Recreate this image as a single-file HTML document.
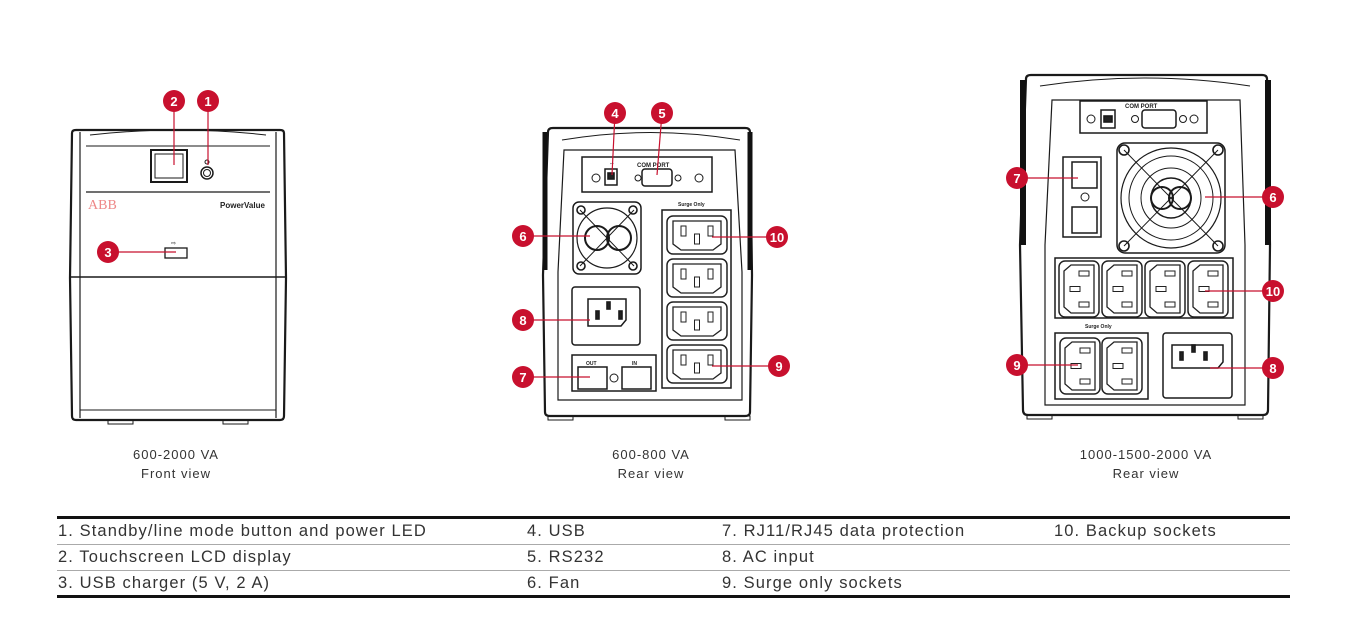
<!DOCTYPE html>
<html><head><meta charset="utf-8"><style>
body{margin:0;background:#fff;width:1353px;height:623px;overflow:hidden;font-family:"Liberation Sans",sans-serif}
svg{position:absolute;left:0;top:0}
</style></head><body>
<svg width="1353" height="623" viewBox="0 0 1353 623" xmlns="http://www.w3.org/2000/svg" font-family="Liberation Sans, sans-serif">
<defs>
<g id="sock"><rect x="0" y="0" width="60" height="38" rx="6" fill="#fff" stroke="#222" stroke-width="1.5"/><path d="M6 5 H54 V28 L46 34 H14 L6 28 Z" fill="none" stroke="#222" stroke-width="1.3"/><rect x="14" y="10" width="5" height="10" fill="none" stroke="#222"/><rect x="41" y="10" width="5" height="10" fill="none" stroke="#222"/><rect x="27.5" y="18" width="5" height="10" fill="none" stroke="#222"/></g>
<g id="sockv"><rect x="0" y="0" width="40" height="56" rx="6" fill="#fff" stroke="#222" stroke-width="1.5"/><path d="M5 10 L12 4 H35 V52 H12 L5 46 Z" fill="none" stroke="#222" stroke-width="1.3"/><rect x="20" y="10" width="10" height="5" fill="none" stroke="#222"/><rect x="20" y="41" width="10" height="5" fill="none" stroke="#222"/><rect x="11" y="25.5" width="10" height="5" fill="none" stroke="#222"/></g>
</defs>
<g stroke="#1a1a1a" fill="none" stroke-width="1.6">
<!-- FRONT -->
<path d="M72 133 Q72 130 76 130 L280 130 Q284 130 284 133 L286 278 L284 416 Q284 420 280 420 L76 420 Q72 420 72 416 L70 278 Z" stroke-width="2.2"/>
<path d="M80 132 L80 418 M276 132 L276 418" stroke-width="1.2"/>
<path d="M90 135 Q180 125 266 135" stroke-width="1"/>
<line x1="86" y1="146" x2="270" y2="146" stroke-width="1"/>
<line x1="86" y1="192" x2="270" y2="192" stroke-width="1.2"/>
<line x1="70" y1="277" x2="286" y2="277" stroke-width="1.6"/>
<line x1="80" y1="410" x2="276" y2="410" stroke-width="1"/>
<rect x="151" y="150" width="36" height="32" stroke-width="2"/>
<rect x="155" y="154" width="28" height="24" stroke-width="1"/>
<circle cx="207" cy="173" r="6" stroke-width="1.5"/><circle cx="207" cy="173" r="3.5" stroke-width="1"/>
<circle cx="207" cy="162" r="2" stroke-width="1"/>
<rect x="165" y="248" width="22" height="10" stroke-width="1.3"/>
<rect x="108" y="420" width="25" height="4" stroke-width="1"/><rect x="223" y="420" width="25" height="4" stroke-width="1"/>
</g>
<text x="88" y="209" font-size="14" fill="#e88" font-family="Liberation Serif, serif">ABB</text>
<text x="220" y="208" font-size="8" font-weight="bold" fill="#222">PowerValue</text>
<text x="171" y="245" font-size="6" fill="#222">⇨</text>

<!-- MIDDLE -->
<g stroke="#1a1a1a" fill="none" stroke-width="1.6">
<path d="M548 132 Q548 128 553 128 L745 128 Q750 128 750 132 L752 275 L750 412 Q750 416 745 416 L550 416 Q545 416 545 412 L543 275 Z" stroke-width="2.2"/>
<path d="M545 132 L545 270 M750 132 L750 270" stroke="#111" stroke-width="5"/>
<path d="M562 140 Q650 125 740 140" stroke-width="1"/>
<path d="M564 150 L735 150 L742 272 L742 400 L558 400 L558 272 Z" stroke-width="1.2"/>
<rect x="582" y="157" width="130" height="35" stroke-width="1.5"/>
<rect x="605" y="169" width="12" height="16" stroke-width="1.5"/><rect x="608" y="173" width="6" height="6" fill="#222"/>
<circle cx="596" cy="178" r="4" stroke-width="1"/><circle cx="699" cy="178" r="4" stroke-width="1"/>
<rect x="642" y="169" width="30" height="17" rx="3" stroke-width="1.5"/>
<circle cx="638" cy="178" r="3" stroke-width="1"/><circle cx="678" cy="178" r="3" stroke-width="1"/>
<rect x="573" y="202" width="68" height="72" rx="6" stroke-width="1.5"/>
<circle cx="607" cy="238" r="30" stroke-width="1.2"/>
<circle cx="597" cy="238" r="12" stroke-width="2"/><circle cx="619" cy="238" r="12" stroke-width="2"/>
<path d="M580 210 L634 266 M634 210 L580 266" stroke-width="1"/>
<circle cx="581" cy="210" r="4"/><circle cx="633" cy="210" r="4"/><circle cx="581" cy="266" r="4"/><circle cx="633" cy="266" r="4"/>
<rect x="572" y="287" width="68" height="58" rx="3" stroke-width="1.5"/>
<path d="M588 299 H626 V320 L621 326 H588 Z" stroke-width="1.5"/>
<rect x="596" y="311" width="3" height="8" fill="#222"/><rect x="619" y="311" width="3" height="8" fill="#222"/><rect x="607" y="302" width="3" height="7" fill="#222"/>
<rect x="572" y="355" width="84" height="36" stroke-width="1.5"/>
<rect x="578" y="367" width="29" height="22" stroke-width="1.5"/><rect x="622" y="367" width="29" height="22" stroke-width="1.5"/>
<circle cx="614" cy="378" r="4" stroke-width="1"/>
<rect x="662" y="210" width="69" height="178" stroke-width="1.5"/>
<rect x="548" y="416" width="25" height="4" stroke-width="1"/><rect x="725" y="416" width="25" height="4" stroke-width="1"/>
</g>
<use href="#sock" x="667" y="216"/><use href="#sock" x="667" y="259"/><use href="#sock" x="667" y="302"/><use href="#sock" x="667" y="345"/>
<text x="637" y="167" font-size="6" font-weight="bold" fill="#222">COM PORT</text>
<text x="609" y="165" font-size="6" fill="#222">⇔</text>
<text x="678" y="206" font-size="5" font-weight="bold" fill="#222">Surge Only</text>
<text x="586" y="365" font-size="5" font-weight="bold" fill="#222">OUT</text>
<text x="632" y="365" font-size="5" font-weight="bold" fill="#222">IN</text>

<!-- RIGHT -->
<g stroke="#1a1a1a" fill="none" stroke-width="1.6">
<path d="M1026 79 Q1026 75 1031 75 L1262 75 Q1267 75 1267 79 L1270 245 L1268 410 Q1268 415 1263 415 L1028 415 Q1023 415 1023 410 L1020 245 Z" stroke-width="2.2"/>
<path d="M1023 80 L1023 245 M1268 80 L1268 245" stroke="#111" stroke-width="6"/>
<path d="M1040 86 Q1145 70 1250 86" stroke-width="1"/>
<path d="M1052 100 L1240 100 L1245 245 L1245 405 L1045 405 L1045 245 Z" stroke-width="1.2"/>
<rect x="1080" y="101" width="127" height="32" stroke-width="1.5"/>
<rect x="1101" y="110" width="14" height="18" stroke-width="1.5"/><rect x="1104" y="116" width="8" height="6" fill="#222"/>
<circle cx="1091" cy="119" r="4" stroke-width="1"/><circle cx="1194" cy="119" r="4" stroke-width="1"/>
<rect x="1142" y="110" width="34" height="18" rx="3" stroke-width="1.5"/>
<circle cx="1135" cy="119" r="3.5" stroke-width="1"/><circle cx="1183" cy="119" r="3.5" stroke-width="1"/>
<rect x="1063" y="157" width="38" height="80" stroke-width="1.5"/>
<rect x="1072" y="162" width="25" height="26" stroke-width="1.5"/><rect x="1072" y="207" width="25" height="26" stroke-width="1.5"/>
<circle cx="1085" cy="197" r="4" stroke-width="1"/>
<rect x="1117" y="143" width="108" height="110" rx="8" stroke-width="1.5"/>
<circle cx="1171" cy="198" r="50" stroke-width="1.2"/><circle cx="1171" cy="198" r="42" stroke-width="1"/>
<circle cx="1171" cy="198" r="30" stroke-width="1"/><circle cx="1171" cy="198" r="20" stroke-width="1.5"/>
<circle cx="1162" cy="198" r="11" stroke-width="2"/><circle cx="1180" cy="198" r="11" stroke-width="2"/>
<path d="M1124 150 L1218 246 M1218 150 L1124 246" stroke-width="1"/>
<circle cx="1124" cy="150" r="5"/><circle cx="1218" cy="150" r="5"/><circle cx="1124" cy="246" r="5"/><circle cx="1218" cy="246" r="5"/>
<rect x="1055" y="258" width="178" height="60" stroke-width="1.5"/>
<rect x="1055" y="333" width="93" height="66" stroke-width="1.5"/>
<rect x="1163" y="333" width="69" height="65" rx="3" stroke-width="1.5"/>
<path d="M1172 345 H1223 V362 L1218 368 H1172 Z" stroke-width="1.5"/>
<rect x="1180" y="352" width="3" height="8" fill="#222"/><rect x="1204" y="352" width="3" height="8" fill="#222"/><rect x="1192" y="345" width="3" height="7" fill="#222"/>
<rect x="1027" y="415" width="25" height="4" stroke-width="1"/><rect x="1238" y="415" width="25" height="4" stroke-width="1"/>
</g>
<use href="#sockv" x="1059" y="261"/><use href="#sockv" x="1102" y="261"/><use href="#sockv" x="1145" y="261"/><use href="#sockv" x="1188" y="261"/>
<use href="#sockv" x="1060" y="338"/><use href="#sockv" x="1102" y="338"/>
<text x="1125" y="108" font-size="6" font-weight="bold" fill="#222">COM PORT</text>
<text x="1085" y="328" font-size="5" font-weight="bold" fill="#222">Surge Only</text>

<!-- Leaders -->
<g stroke="#c8102e" stroke-width="1.2">
<line x1="174" y1="101" x2="174" y2="165"/><line x1="208" y1="101" x2="208" y2="165"/><line x1="108" y1="252" x2="176" y2="252"/>
<line x1="615" y1="113" x2="612" y2="175"/><line x1="662" y1="113" x2="657" y2="175"/>
<line x1="523" y1="236" x2="590" y2="236"/><line x1="777" y1="237" x2="712" y2="237"/>
<line x1="523" y1="320" x2="590" y2="320"/><line x1="523" y1="377" x2="590" y2="377"/><line x1="779" y1="366" x2="712" y2="366"/>
<line x1="1017" y1="178" x2="1078" y2="178"/><line x1="1273" y1="197" x2="1205" y2="197"/>
<line x1="1273" y1="291" x2="1205" y2="291"/><line x1="1017" y1="365" x2="1078" y2="365"/><line x1="1273" y1="368" x2="1210" y2="368"/>
</g>
<g fill="#c8102e">
<circle cx="174" cy="101" r="11"/><circle cx="208" cy="101" r="11"/><circle cx="108" cy="252" r="11"/>
<circle cx="615" cy="113" r="11"/><circle cx="662" cy="113" r="11"/><circle cx="523" cy="236" r="11"/><circle cx="777" cy="237" r="11"/>
<circle cx="523" cy="320" r="11"/><circle cx="523" cy="377" r="11"/><circle cx="779" cy="366" r="11"/>
<circle cx="1017" cy="178" r="11"/><circle cx="1273" cy="197" r="11"/><circle cx="1273" cy="291" r="11"/><circle cx="1017" cy="365" r="11"/><circle cx="1273" cy="368" r="11"/>
</g>
<g fill="#fff" font-size="13" font-weight="bold" text-anchor="middle">
<text x="174" y="106">2</text><text x="208" y="106">1</text><text x="108" y="257">3</text>
<text x="615" y="118">4</text><text x="662" y="118">5</text><text x="523" y="241">6</text><text x="777" y="242">10</text>
<text x="523" y="325">8</text><text x="523" y="382">7</text><text x="779" y="371">9</text>
<text x="1017" y="183">7</text><text x="1273" y="202">6</text><text x="1273" y="296">10</text><text x="1017" y="370">9</text><text x="1273" y="373">8</text>
</g>
<g font-size="13" fill="#333" text-anchor="middle" letter-spacing="1">
<text x="176" y="459">600-2000 VA</text><text x="176" y="478">Front view</text>
<text x="651" y="459">600-800 VA</text><text x="651" y="478">Rear view</text>
<text x="1146" y="459">1000-1500-2000 VA</text><text x="1146" y="478">Rear view</text>
</g>
<!-- table -->
<rect x="57" y="516" width="1233" height="3" fill="#111"/>
<rect x="57" y="544" width="1233" height="1" fill="#aaa"/>
<rect x="57" y="570" width="1233" height="1" fill="#aaa"/>
<rect x="57" y="595" width="1233" height="3" fill="#111"/>
<g font-size="16.5" fill="#333" letter-spacing="1.1">
<text x="58" y="536">1.  Standby/line mode button and power LED</text>
<text x="58" y="562">2.  Touchscreen LCD display</text>
<text x="58" y="588">3.  USB charger (5 V, 2 A)</text>
<text x="527" y="536">4.  USB</text><text x="527" y="562">5.  RS232</text><text x="527" y="588">6.  Fan</text>
<text x="722" y="536">7.  RJ11/RJ45 data protection</text><text x="722" y="562">8.  AC input</text><text x="722" y="588">9.  Surge only sockets</text>
<text x="1054" y="536">10.  Backup sockets</text>
</g>
</svg>
</body></html>
